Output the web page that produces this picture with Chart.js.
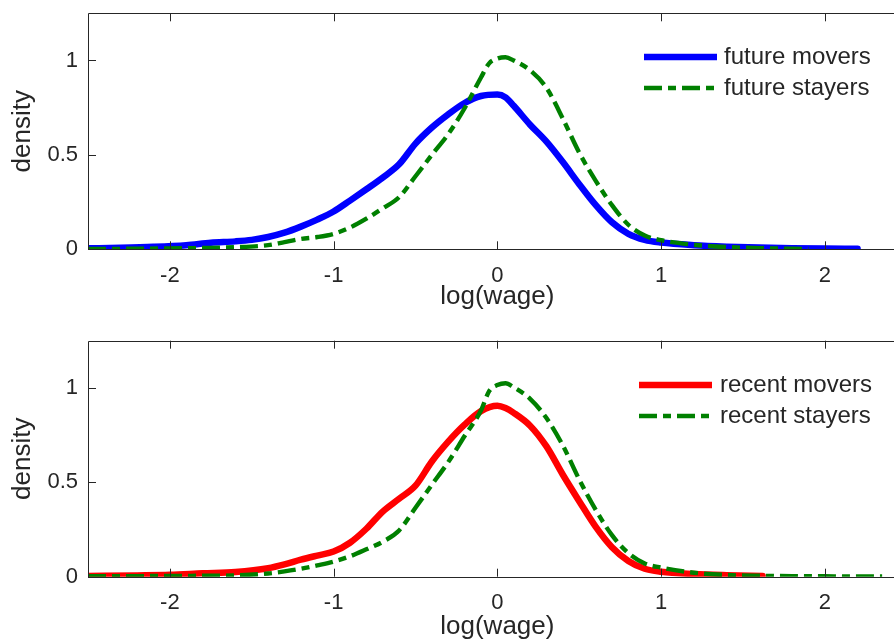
<!DOCTYPE html>
<html>
<head>
<meta charset="utf-8">
<script src="https://cdn.jsdelivr.net/npm/chart.js@4/dist/chart.umd.min.js"></script>
<style>
  html, body { margin: 0; padding: 0; background: #fff; overflow: hidden; }
  #wrap { position: relative; width: 894px; height: 642px; overflow: hidden; }
  canvas { position: absolute; left: 0; }
  #c1 { top: 0; }
  #c2 { top: 320px; }
</style>
</head>
<body>
<div id="wrap">
  <canvas id="c1" width="910" height="320"></canvas>
  <canvas id="c2" width="910" height="322"></canvas>
</div>
<script>
// ---------- data ----------
const xTickValues = [-2, -1, 0, 1, 2];
const xTickLabels = ['-2', '-1', '0', '1', '2'];
const yTickValues = [0, 0.5, 1];
const yTickLabels = ['0', '0.5', '1'];

// top panel: future movers / future stayers
const futureMoversX = [-2.5, -2.3, -2.1, -1.9, -1.75, -1.6, -1.5, -1.4, -1.3, -1.2, -1.1, -1.0, -0.9, -0.8, -0.7, -0.6, -0.5, -0.4, -0.3, -0.2, -0.1, 0.0, 0.05, 0.1, 0.2, 0.3, 0.4, 0.5, 0.6, 0.7, 0.8, 0.9, 1.0, 1.2, 1.4, 1.6, 1.8, 2.0, 2.2];
const futureMoversY = [0.005, 0.008, 0.013, 0.022, 0.035, 0.042, 0.05, 0.065, 0.088, 0.12, 0.157, 0.2, 0.258, 0.318, 0.38, 0.45, 0.56, 0.645, 0.715, 0.775, 0.812, 0.82, 0.805, 0.76, 0.66, 0.57, 0.462, 0.345, 0.235, 0.143, 0.082, 0.05, 0.036, 0.022, 0.014, 0.009, 0.006, 0.004, 0.003];

const futureStayersX = [-2.5, -2.2, -2.0, -1.8, -1.6, -1.4, -1.3, -1.2, -1.1, -1.0, -0.9, -0.8, -0.7, -0.6, -0.5, -0.4, -0.3, -0.2, -0.1, -0.05, 0.0, 0.05, 0.1, 0.2, 0.3, 0.4, 0.5, 0.6, 0.7, 0.8, 0.9, 1.0, 1.2, 1.4, 1.6, 1.8, 1.9];
const futureStayersY = [0.002, 0.003, 0.005, 0.007, 0.011, 0.022, 0.038, 0.055, 0.065, 0.082, 0.115, 0.162, 0.217, 0.276, 0.387, 0.5, 0.61, 0.747, 0.91, 0.985, 1.01, 1.017, 1.0, 0.948, 0.855, 0.692, 0.512, 0.364, 0.234, 0.13, 0.073, 0.048, 0.024, 0.012, 0.006, 0.003, 0.002];

// bottom panel: recent movers / recent stayers
const recentMoversX = [-2.5, -2.2, -2.0, -1.8, -1.6, -1.4, -1.3, -1.2, -1.1, -1.0, -0.9, -0.8, -0.7, -0.6, -0.5, -0.4, -0.3, -0.2, -0.1, 0.0, 0.05, 0.1, 0.2, 0.3, 0.4, 0.5, 0.6, 0.7, 0.8, 0.9, 1.0, 1.2, 1.4, 1.62];
const recentMoversY = [0.004, 0.007, 0.01, 0.018, 0.025, 0.045, 0.065, 0.09, 0.112, 0.133, 0.18, 0.254, 0.345, 0.413, 0.482, 0.61, 0.715, 0.805, 0.877, 0.905, 0.893, 0.868, 0.8, 0.69, 0.54, 0.4, 0.265, 0.156, 0.083, 0.042, 0.026, 0.014, 0.008, 0.004];

const recentStayersX = [-2.5, -2.2, -2.0, -1.8, -1.6, -1.4, -1.3, -1.2, -1.1, -1.0, -0.9, -0.8, -0.7, -0.6, -0.5, -0.4, -0.3, -0.2, -0.1, -0.05, 0.0, 0.05, 0.1, 0.2, 0.3, 0.4, 0.5, 0.6, 0.7, 0.8, 0.9, 1.0, 1.2, 1.4, 1.6, 1.8, 2.0, 2.2, 2.35];
const recentStayersY = [0.002, 0.003, 0.004, 0.005, 0.007, 0.017, 0.028, 0.042, 0.06, 0.08, 0.108, 0.145, 0.185, 0.245, 0.365, 0.487, 0.607, 0.745, 0.88, 0.983, 1.015, 1.025, 1.003, 0.942, 0.84, 0.695, 0.515, 0.355, 0.22, 0.125, 0.07, 0.048, 0.021, 0.009, 0.005, 0.003, 0.002, 0.001, 0.001];

const labelsTop = ['future movers', 'future stayers'];
const labelsBottom = ['recent movers', 'recent stayers'];

// ---------- styling ----------
const FONT = '"Liberation Sans", Arial, Helvetica, sans-serif';
const TXT = '#262626';
const AXC = '#262626';
const BLUE = '#0000ff', RED = '#ff0000', GREEN = '#008000';
const DASHDOT = [18, 6, 8, 6];

function pts(xs, ys) { return xs.map((x, i) => ({ x: x, y: ys[i] })); }

const boxPlugin = {
  id: 'matlabBox',
  afterDatasetsDraw(chart) {
    const { ctx, chartArea: a, scales: { x, y } } = chart;
    ctx.save();
    ctx.strokeStyle = AXC;
    ctx.lineWidth = 1;
    ctx.beginPath();
    ctx.rect(Math.round(a.left) + 0.5, Math.round(a.top) + 0.5, Math.round(a.right - a.left), Math.round(a.bottom - a.top));
    ctx.stroke();
    const tl = 8;
    ctx.beginPath();
    xTickValues.forEach(v => {
      const px = Math.round(x.getPixelForValue(v)) + 0.5;
      ctx.moveTo(px, a.bottom); ctx.lineTo(px, a.bottom - tl);
      ctx.moveTo(px, a.top); ctx.lineTo(px, a.top + tl);
    });
    yTickValues.forEach(v => {
      const py = Math.round(y.getPixelForValue(v)) + 0.5;
      ctx.moveTo(a.left, py); ctx.lineTo(a.left + tl, py);
      ctx.moveTo(a.right, py); ctx.lineTo(a.right - tl, py);
    });
    ctx.stroke();
    ctx.restore();
  }
};

const legendPlugin = {
  id: 'matlabLegend',
  afterDraw(chart, args, opts) {
    const { ctx } = chart;
    ctx.save();
    ctx.font = opts.fontSize + 'px ' + FONT;
    ctx.textBaseline = 'middle';
    ctx.textAlign = 'left';
    opts.items.forEach((it, i) => {
      const yy = opts.y0 + i * opts.dy;
      ctx.strokeStyle = it.color;
      ctx.lineWidth = it.width;
      ctx.lineCap = 'butt';
      ctx.setLineDash(it.dash || []);
      ctx.beginPath();
      ctx.moveTo(opts.x0, yy);
      ctx.lineTo(opts.x1, yy);
      ctx.stroke();
      ctx.setLineDash([]);
      ctx.fillStyle = TXT;
      ctx.fillText(it.text, opts.tx, yy);
    });
    ctx.restore();
  }
};

function makeChart(id, H, areaTop, areaBottom, titlePadBottom, moverColor, moverLabel, stayerLabel, mx, my, sx, sy, legendCfg) {
  const W = 910;
  const areaLeft = 88, areaRight = 906.7;
  return new Chart(document.getElementById(id), {
    type: 'line',
    data: {
      datasets: [
        {
          label: moverLabel, data: pts(mx, my), borderColor: moverColor, backgroundColor: moverColor,
          borderWidth: 6.5, pointRadius: 0, cubicInterpolationMode: 'monotone', fill: false, order: 2,
          borderCapStyle: 'round', borderJoinStyle: 'round'
        },
        {
          label: stayerLabel, data: pts(sx, sy), borderColor: GREEN, backgroundColor: GREEN,
          borderWidth: 4.4, borderDash: DASHDOT, pointRadius: 0, cubicInterpolationMode: 'monotone', fill: false, order: 1,
          borderCapStyle: 'butt'
        }
      ]
    },
    options: {
      responsive: false, animation: false, devicePixelRatio: 1,
      layout: { padding: { top: areaTop, left: 0, right: W - areaRight, bottom: 0 } },
      plugins: {
        legend: { display: false }, tooltip: { enabled: false },
        matlabLegend: legendCfg
      },
      scales: {
        x: {
          type: 'linear', min: -2.5, max: 2.5,
          grid: { display: false, drawTicks: false }, border: { display: false },
          afterBuildTicks: s => { s.ticks = xTickValues.map(v => ({ value: v })); },
          afterFit: s => { s.height = H - areaBottom; s.paddingLeft = 0; s.paddingRight = 0; },
          ticks: {
            autoSkip: false, maxRotation: 0, padding: 13, color: TXT,
            font: { family: FONT, size: 22 },
            callback: v => xTickLabels[xTickValues.indexOf(v)]
          },
          title: { display: true, text: 'log(wage)', color: TXT, font: { family: FONT, size: 26 }, padding: { top: 0, bottom: titlePadBottom } }
        },
        y: {
          type: 'linear', min: 0, max: 1.25,
          grid: { display: false, drawTicks: false }, border: { display: false },
          afterBuildTicks: s => { s.ticks = yTickValues.map(v => ({ value: v })); },
          afterFit: s => { s.width = areaLeft; s.paddingTop = 0; s.paddingBottom = 0; },
          ticks: {
            autoSkip: false, padding: 10, color: TXT,
            font: { family: FONT, size: 22 },
            callback: v => yTickLabels[yTickValues.indexOf(v)]
          },
          title: { display: true, text: 'density', color: TXT, font: { family: FONT, size: 26 }, padding: { top: 7.4, bottom: 0 } }
        }
      }
    },
    plugins: [boxPlugin, legendPlugin]
  });
}

makeChart('c1', 320, 13.3, 249.3, 7.4, BLUE, labelsTop[0], labelsTop[1],
  futureMoversX, futureMoversY, futureStayersX, futureStayersY,
  { fontSize: 24, x0: 644, x1: 717, tx: 724, y0: 57, dy: 31,
    items: [ { text: labelsTop[0], color: BLUE, width: 6.5 }, { text: labelsTop[1], color: GREEN, width: 4.4, dash: DASHDOT } ] });

makeChart('c2', 322, 20.7, 256.7, 0, RED, labelsBottom[0], labelsBottom[1],
  recentMoversX, recentMoversY, recentStayersX, recentStayersY,
  { fontSize: 24, x0: 639, x1: 712, tx: 720, y0: 65, dy: 31,
    items: [ { text: labelsBottom[0], color: RED, width: 6.5 }, { text: labelsBottom[1], color: GREEN, width: 4.4, dash: DASHDOT } ] });
</script>
</body>
</html>
